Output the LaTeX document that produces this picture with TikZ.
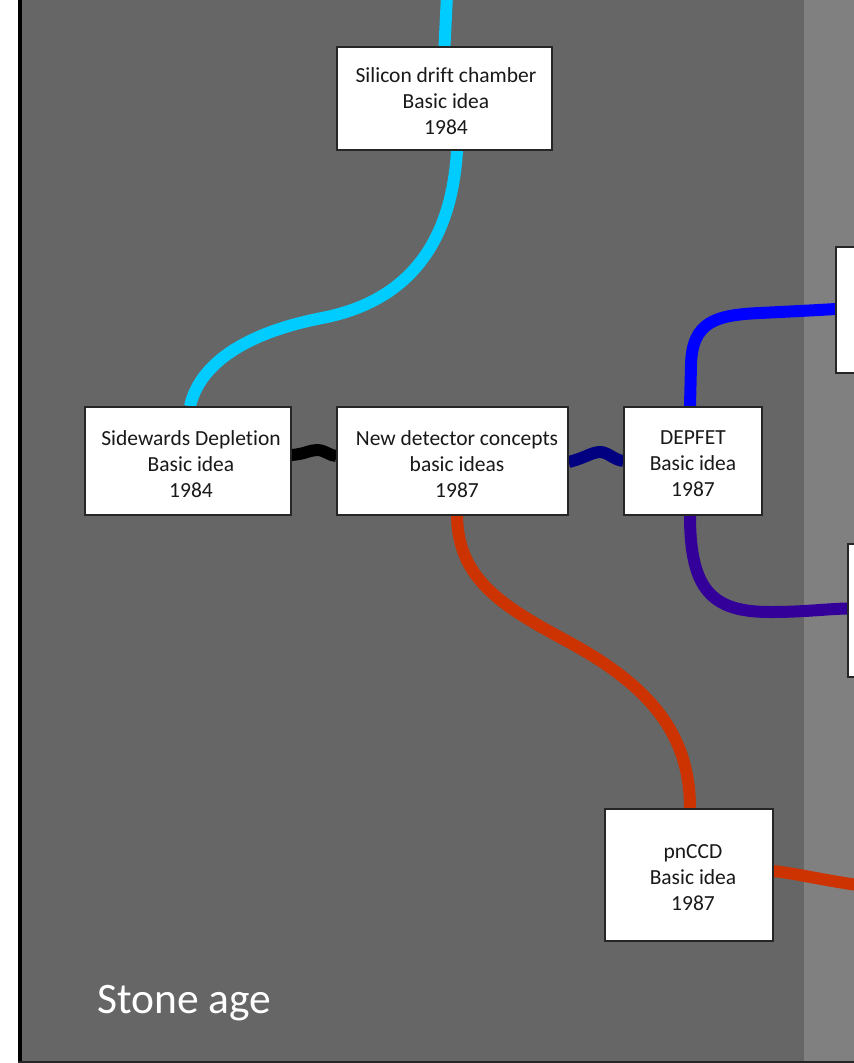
\documentclass[tikz,border=0pt]{standalone}
\usepackage{fontspec}
\setmainfont{Carlito}[Ligatures=NoCommon]
\usetikzlibrary{calc}
\pgfdeclarelayer{bg}
\pgfsetlayers{bg,main}
\definecolor{darkbg}{HTML}{666666}
\definecolor{lightbg}{HTML}{808080}
\definecolor{cyanline}{HTML}{00CCFF}
\definecolor{navyline}{HTML}{000080}
\definecolor{blueline}{HTML}{0000FF}
\definecolor{indigoline}{HTML}{330099}
\definecolor{redline}{HTML}{CC3300}
\begin{document}
\begin{tikzpicture}[x=1pt,y=-1pt,
  box/.style={draw=black!85, line width=1.2pt, fill=white, inner sep=0pt},
  boxlbl/.style={align=center, font=\fontsize{21.5}{26}\selectfont, inner sep=0pt, text=black!90, yshift=-3pt},
  conn/.style={line width=12pt}]
\useasboundingbox (0,0) rectangle (854,1063);
\clip (0,0) rectangle (854,1063);
% boxes
\node[box, minimum width=215pt, minimum height=103pt, label={[boxlbl, xshift=1.5pt]center:Silicon drift chamber\\Basic idea\\1984}] (sdc) at (444.5,98.5) {};
\node[box, minimum width=206pt, minimum height=108pt, label={[boxlbl, xshift=3pt]center:Sidewards Depletion\\Basic idea\\1984}] (sw) at (188,461) {};
\node[box, minimum width=231pt, minimum height=108pt, label={[boxlbl, xshift=4.5pt]center:New detector concepts\\basic ideas\\1987}] (ndc) at (452.5,461) {};
\node[box, minimum width=138pt, minimum height=108pt, label={[boxlbl]center:DEPFET\\Basic idea\\1987}] (dep) at (693,461) {};
\node[box, minimum width=168pt, minimum height=132pt, label={[boxlbl, xshift=4pt]center:pnCCD\\Basic idea\\1987}] (pn) at (689,875) {};
\node[box, minimum width=164pt, minimum height=126pt] (r1) at (918,310) {};
\node[box, minimum width=164pt, minimum height=133pt] (r2) at (930,610.5) {};
\node[text=white, font=\fontsize{43.5}{50}\selectfont, anchor=base west, inner sep=0pt] (stone) at (97,1013) {Stone age};
\coordinate (topc) at (447,-5);
\coordinate (pnr) at (880,888);
\begin{pgfonlayer}{bg}
\fill[white] (0,0) rectangle (854,1063);
\fill[darkbg] (22,0) rectangle (804,1061);
\fill[lightbg] (804,0) rectangle (854,1061);
\fill[black] (18,0) rectangle (22,1063);
\fill[black!85] (18,1061) rectangle (854,1063);
% connectors
\draw[conn, cyanline] (topc) -- (sdc.north);
\draw[conn, cyanline] ($(sdc.south)+(12.5,0)$) .. controls (452,235) and (415,300) .. (322,318) .. controls (235,335) and (198,370) .. ($(sw.north)+(2,0)$);
\draw[conn, black] ($(sw.east)+(0,-6)$) .. controls (305,454) and (310,450) .. (317,450) .. controls (325,450) and (330,456) .. ($(ndc.west)+(0,-5)$);
\draw[conn, navyline] ($(ndc.east)+(0,1)$) .. controls (585,458) and (592,452) .. (600,452) .. controls (608,452) and (614,460) .. (dep.west);
\draw[conn, blueline] ($(dep.north)+(-3,0)$) -- (691,365) .. controls (692,322) and (715,315) .. (760,313) .. controls (800,311) and (820,310) .. ($(r1.west)+(0,-1)$);
\draw[conn, indigoline] ($(dep.south)+(-3,0)$) .. controls (690,590) and (712,612) .. (770,612) .. controls (805,612) and (825,609) .. ($(r2.west)+(0,-2)$);
\draw[conn, redline] ($(ndc.south)+(4.5,0)$) .. controls (458,578) and (500,605) .. (565,640) .. controls (645,683) and (690,730) .. ($(pn.north)+(1,0)$);
\draw[conn, redline] ($(pn.east)+(0,-4)$) .. controls (800,874) and (830,882) .. (pnr);
\end{pgfonlayer}
\end{tikzpicture}
\end{document}
